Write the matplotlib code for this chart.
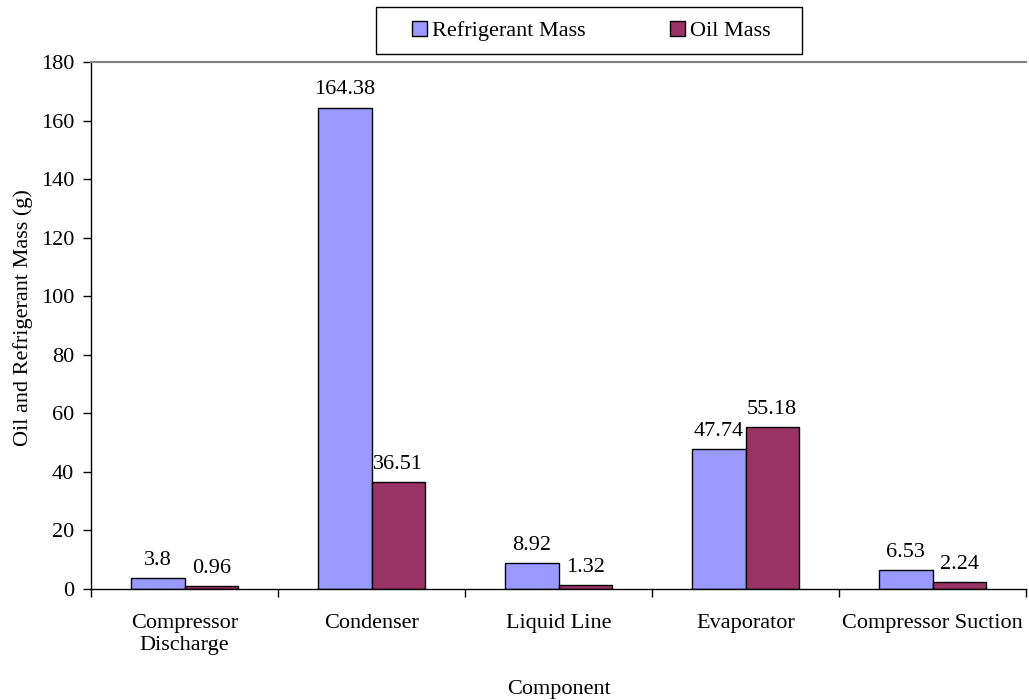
import matplotlib
matplotlib.use("Agg")
import matplotlib.pyplot as plt
from matplotlib.patches import Rectangle
import numpy as np

plt.rcParams['font.family'] = ['Liberation Serif', 'DejaVu Serif']

# Data
components = ["Compressor\nDischarge", "Condenser", "Liquid Line", "Evaporator", "Compressor Suction"]
refrigerant_mass = [3.8, 164.38, 8.92, 47.74, 6.53]
oil_mass = [0.96, 36.51, 1.32, 55.18, 2.24]
value_labels_ref = ["3.8", "164.38", "8.92", "47.74", "6.53"]
value_labels_oil = ["0.96", "36.51", "1.32", "55.18", "2.24"]

fig = plt.figure(figsize=(10.29, 7.0), dpi=100)
ax = fig.add_axes([91 / 1029, 1 - 589 / 700, (1026 - 91) / 1029, (589 - 62) / 700])

x = np.arange(len(components))
w = 0.286
fs = 16

b1 = ax.bar(x - w / 2, refrigerant_mass, w, color="#9999FF", edgecolor="black", linewidth=1.0,
            label="Refrigerant Mass")
b2 = ax.bar(x + w / 2, oil_mass, w, color="#993366", edgecolor="black", linewidth=1.0,
            label="Oil Mass")

for rect, lab in zip(b1, value_labels_ref):
    ax.annotate(lab, (rect.get_x() + rect.get_width() / 2, rect.get_height()),
                xytext=(0, 6), textcoords="offset points", ha="center", va="bottom", fontsize=fs)
for rect, lab in zip(b2, value_labels_oil):
    ax.annotate(lab, (rect.get_x() + rect.get_width() / 2, rect.get_height()),
                xytext=(0, 6), textcoords="offset points", ha="center", va="bottom", fontsize=fs)

ax.set_xlim(-0.5, len(components) - 0.5)
ax.set_ylim(0, 180)
ax.set_yticks(np.arange(0, 181, 20))
ax.set_xticks(x)
ax.set_xticklabels(components, fontsize=fs)
ax.set_xticks(np.arange(-0.5, len(components) + 0.5, 1), minor=True)
ax.tick_params(axis="x", which="major", length=0, pad=18)
ax.tick_params(axis="x", which="minor", length=6, width=1, color="black")
ax.tick_params(axis="y", length=6, width=1, labelsize=fs, pad=6)

ax.spines["right"].set_visible(False)
ax.spines["top"].set_color("#808080")
ax.spines["top"].set_linewidth(1.5)
ax.spines["left"].set_linewidth(1.0)
ax.spines["bottom"].set_linewidth(1.0)

ax.set_ylabel("Oil and Refrigerant Mass (g)", fontsize=fs)
ax.yaxis.set_label_coords(-0.062, 0.516)
ax.set_xlabel("Component", fontsize=fs, labelpad=18)

leg = fig.legend(loc="center", bbox_to_anchor=(591 / 1029, 1 - 31 / 700), ncol=2, fontsize=fs,
                 frameon=False, handlelength=0.7, handleheight=0.7, handletextpad=0.2,
                 columnspacing=3.8)
fig.patches.append(Rectangle((376 / 1029, 1 - 54 / 700), (802 - 376) / 1029, 47 / 700,
                             transform=fig.transFigure, fill=False, edgecolor="black",
                             linewidth=1.0))

fig.savefig("out.png", dpi=100)
